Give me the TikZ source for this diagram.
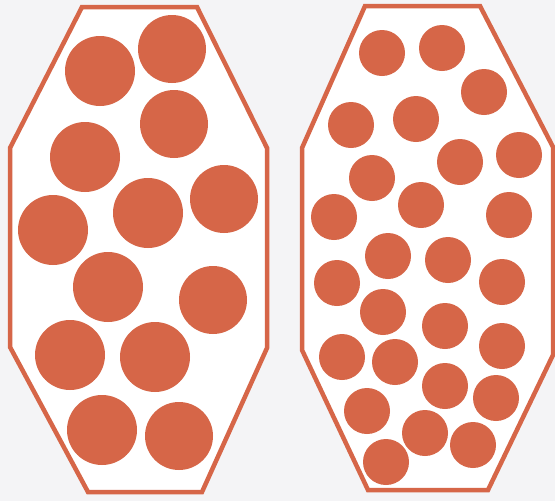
\documentclass[tikz,border=0pt]{standalone}
\begin{document}
\begin{tikzpicture}[x=1pt,y=-1pt,
  vessel/.style={draw=brick,line width=4.5pt,line join=miter,fill=white},
  ball/.style={fill=brick}]
\definecolor{brick}{RGB}{214,102,72}
\definecolor{paper}{RGB}{244,244,246}
\fill[paper] (0,0) rectangle (555,501);
\useasboundingbox (0,0) rectangle (555,501);
% left vessel
\draw[vessel] (82,7) -- (197,7) -- (267,148) -- (267,348) -- (202,492) -- (88,492) -- (10,347) -- (10,148) -- cycle;
\foreach \x/\y/\r in {100/71/35, 172/49/34, 85/157/35, 174/124/34, 53/230/35, 148/213/35, 224/199/34,
  108/287/35, 213/300/34, 70/355/35, 155/357/35, 102/430/35, 179/436/34}
  \fill[ball] (\x,\y) circle (\r);
% right vessel
\draw[vessel] (365,6) -- (480,6) -- (553,147) -- (553,355) -- (488,490) -- (368,490) -- (302,350) -- (302,148) -- cycle;
\foreach \x/\y in {382/53, 442/48, 484/92, 351/125, 416/119, 460/162, 519/155, 372/178, 334/217, 421/205, 509/215,
  388/256, 448/260, 337/283, 502/282, 383/312, 445/326, 342/357, 395/362, 502/346, 445/386, 496/398, 367/411,
  425/433, 473/445, 386/462}
  \fill[ball] (\x,\y) circle (23);
\end{tikzpicture}
\end{document}
